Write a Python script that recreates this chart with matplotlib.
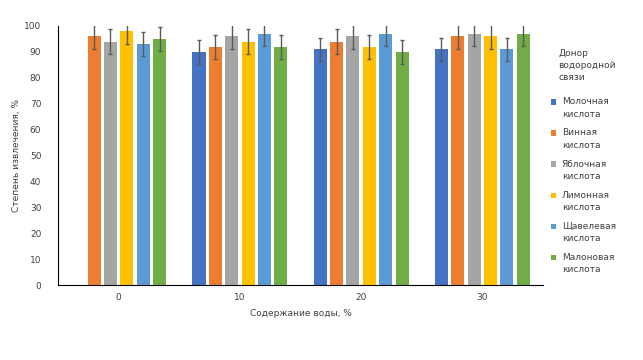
import numpy as np
import matplotlib.pyplot as plt

water = ['0', '10', '20', '30']
donors = ['Молочная\nкислота', 'Винная\nкислота', 'Яблочная\nкислота',
          'Лимонная\nкислота', 'Щавелевая\nкислота', 'Малоновая\nкислота']
# rows = donor, columns = water content
values = [
    [np.nan, 90, 91, 91],
    [96, 92, 94, 96],
    [94, 96, 96, 97],
    [98, 94, 92, 96],
    [93, 97, 97, 91],
    [95, 92, 90, 97],
]
colors = ['#4472C4', '#ED7D31', '#A5A5A5', '#FFC000', '#5B9BD5', '#70AD47']

plt.rcParams['font.family'] = 'DejaVu Sans'
fig = plt.figure(figsize=(6.43, 3.6), dpi=100)
ax = fig.add_axes([0.0902, 0.2083, 0.7543, 0.7195])

x = np.arange(len(water))
step = 0.135
width = 0.108
for i, (name, vals) in enumerate(zip(donors, values)):
    vals = np.array(vals, dtype=float)
    pos = x + (i - 2.5) * step
    ax.bar(pos, vals, width, color=colors[i], label=name)
    # error bars 5 % of value
    ax.errorbar(pos, vals, yerr=vals * 0.05, fmt='none', ecolor='#595959',
                elinewidth=1, capsize=1.5, capthick=1)

ax.set_xlim(-0.5, 3.5)
ax.set_ylim(0, 100)
ax.set_yticks(range(0, 101, 10))
ax.set_xticks(x)
ax.set_xticklabels(water)
ax.tick_params(length=0, labelsize=6.5, colors='#404040')
ax.tick_params(axis='y', pad=12)
ax.tick_params(axis='x', pad=6)
for s in ['top', 'right']:
    ax.spines[s].set_visible(False)
ax.spines['left'].set_color('black')
ax.spines['bottom'].set_color('black')
ax.set_ylabel('Степень извлечения, %', fontsize=6.5, color='#404040', labelpad=2)
ax.set_xlabel('Содержание воды, %', fontsize=6.5, color='#404040', labelpad=5)

fig.text(0.868, 0.865, 'Донор\nводородной\nсвязи', fontsize=6.5, color='#404040',
         va='top', ha='left', linespacing=1.45)
leg = fig.legend(loc='upper left', bbox_to_anchor=(0.845, 0.752), frameon=False,
                 fontsize=6.5, labelcolor='#404040', handlelength=0.55,
                 handleheight=0.55, handletextpad=0.6, labelspacing=1.1)
for t in leg.get_texts():
    t.set_linespacing(1.45)
# put the colour square next to the first line of each label
for h in leg.legend_handles:
    h.set_y(h.get_y() + 4.5)

plt.savefig('out.png', dpi=100)
